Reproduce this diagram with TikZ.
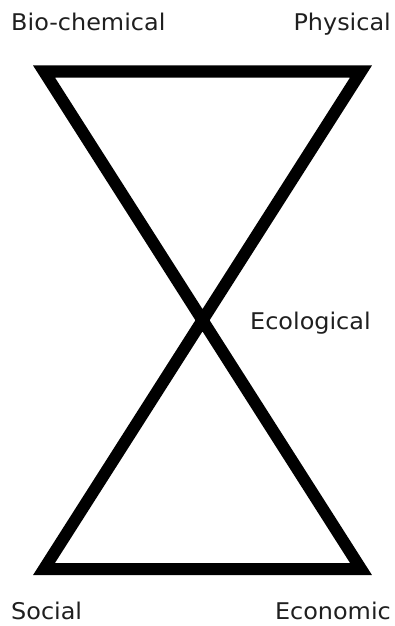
\documentclass[tikz,border=0pt]{standalone}
\usepackage{fontspec}
\newfontfamily\labfont[FakeStretch=1.04]{DejaVu Sans}
\tikzset{
  lab/.style={inner sep=0pt, font=\labfont\fontsize{23}{27}\selectfont, text=black!88},
  glass/.style={line width=12pt, line join=miter, miter limit=10}
}
\begin{document}
\begin{tikzpicture}[x=1pt,y=-1pt]
\useasboundingbox (0,0) rectangle (395,626);
\coordinate (tl) at (44,71.5);
\coordinate (tr) at (361,71.5);
\coordinate (bl) at (44,569);
\coordinate (br) at (361,569);
\draw[glass] (tl) -- (tr) -- (bl) -- (br) -- cycle;
\node[lab, anchor=base west] (bio) at (11,31) {Bio-chemical};
\node[lab, anchor=base east] (phy) at (391,31) {Physical};
\node[lab, anchor=base west] (eco) at (250,329) {Ecological};
\node[lab, anchor=base west] (soc) at (11,619) {Social};
\node[lab, anchor=base east] (econ) at (391,619) {Economic};
\end{tikzpicture}
\end{document}
